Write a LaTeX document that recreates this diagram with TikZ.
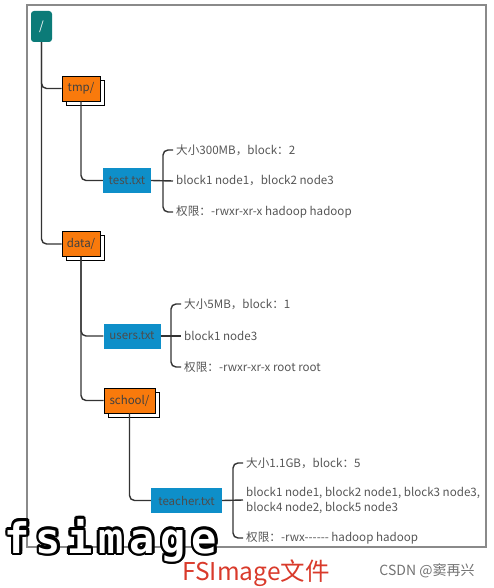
\documentclass[tikz,border=0pt]{standalone}
\usepackage{fontspec}
\setmainfont{Noto Sans CJK SC}
\newfontfamily\bigmono[LetterSpace=14]{DejaVu Sans Mono}
\usetikzlibrary{shadows}

\definecolor{rootteal}{HTML}{0B7B78}
\definecolor{dirorange}{HTML}{F97A0C}
\definecolor{fileblue}{HTML}{0E8FC9}
\definecolor{linegray}{HTML}{333333}
\definecolor{infogray}{HTML}{555555}
\definecolor{framegray}{HTML}{8A8A8A}
\definecolor{titlered}{HTML}{D93A2B}

\begin{document}
\begin{tikzpicture}[x=1pt, y=-1pt,
        rootbox/.style={fill=rootteal, rounded corners=3, minimum width=21, minimum height=31,
            inner sep=0, text=white, font=\fontsize{12}{14}\selectfont},
        dirbox/.style={draw=black, line width=0.8, fill=dirorange, minimum width=#1, minimum height=25,
            inner sep=0, text=black!75, font=\fontsize{11.5}{13}\selectfont,
            copy shadow={shadow xshift=4pt, shadow yshift=-4pt, fill=white, draw=black, line width=0.8}},
        filebox/.style={fill=fileblue, minimum width=#1, minimum height=25, inner sep=0,
            text=black!70, font=\fontsize{11.5}{13}\selectfont},
        info/.style={anchor=west, inner sep=3, text=infogray, align=left,
            font=\fontsize{11.6}{15}\selectfont},
        link/.style={draw=linegray, line width=1.4, rounded corners=5},
        bigword/.style={font=\bigmono\bfseries\fontsize{42}{42}\selectfont, anchor=base, inner sep=0}]
        \useasboundingbox (0,0) rectangle (493,588);

        % Frame
        \draw[framegray, line width=1.2] (27,5) rectangle (486,547);

        % Nodes
        \node[rootbox] (root) at (41.5,26.5) {/};
        \node[dirbox=38] (tmp) at (81,88.5) {tmp/};
        \node[filebox=48] (testtxt) at (127,180.5) {test.txt};
        \node[dirbox=38] (data) at (81,244) {data/};
        \node[filebox=57] (users) at (132,336) {users.txt};
        \node[dirbox=51] (school) at (129.5,400.5) {school/};
        \node[filebox=71] (teacher) at (186.5,500.5) {teacher.txt};

        % Info texts
        \node[info] (t1) at (173,150) {大小300MB，block：2};
        \node[info] (t2) at (173,181) {block1 node1，block2 node3};
        \node[info] (t3) at (173,212) {权限：-rwxr-xr-x hadoop hadoop};
        \node[info] (u1) at (181,304) {大小5MB，block：1};
        \node[info] (u2) at (181,336) {block1 node3};
        \node[info] (u3) at (181,367) {权限：-rwxr-xr-x root root};
        \node[info] (r1) at (243,463) {大小1.1GB，block：5};
        \node[info] (r2) at (243,500) {block1 node1, block2 node1, block3 node3,\\block4 node2, block5 node3};
        \node[info] (r3) at (243,538) {权限：-rwx-{}-{}-{}-{}-{}- hadoop hadoop};

        % Tree lines
        \draw[link] (root.south) |- (tmp.west);
        \draw[link] (root.south) |- (data.west);
        \draw[link] (tmp.south) |- (testtxt.west);
        \draw[link] (data.south) |- (users.west);
        \draw[link] (data.south) |- (school.west);
        \draw[link] (school.south) |- (teacher.west);

        % Forks
        \coordinate (testfork) at (163,180.5);
        \coordinate (usersfork) at (171,336);
        \coordinate (teacherfork) at (233,500.5);
        \draw[link] (t1.west) -| (testfork) |- (t3.west);
        \draw[link] (testtxt.east) -- (t2.west);
        \draw[link] (u1.west) -| (usersfork) |- (u3.west);
        \draw[link] (users.east) -- (u2.west);
        \draw[link] (r1.west) -| (teacherfork) |- (r3.west);
        \draw[link] (teacher.east) -- (r2.west);

        % Overlay caption
        \coordinate (fsbase) at (111,553);
        \foreach \a in {0,30,...,330}
            \path (fsbase) ++(\a:2.6) node[bigword, text=black] (fsring\a) {fsimage};
        \node[bigword, text=white] (fsimage) at (fsbase) {fsimage};
        \node[text=titlered, font=\fontsize{24.5}{26}\selectfont, inner sep=0] (title) at (256,573) {FSImage文件};
        \node[text=black!55, font=\fontsize{14}{16}\selectfont, inner sep=0] (csdn) at (427,571) {CSDN @窦再兴};
    \end{tikzpicture}
\end{document}
